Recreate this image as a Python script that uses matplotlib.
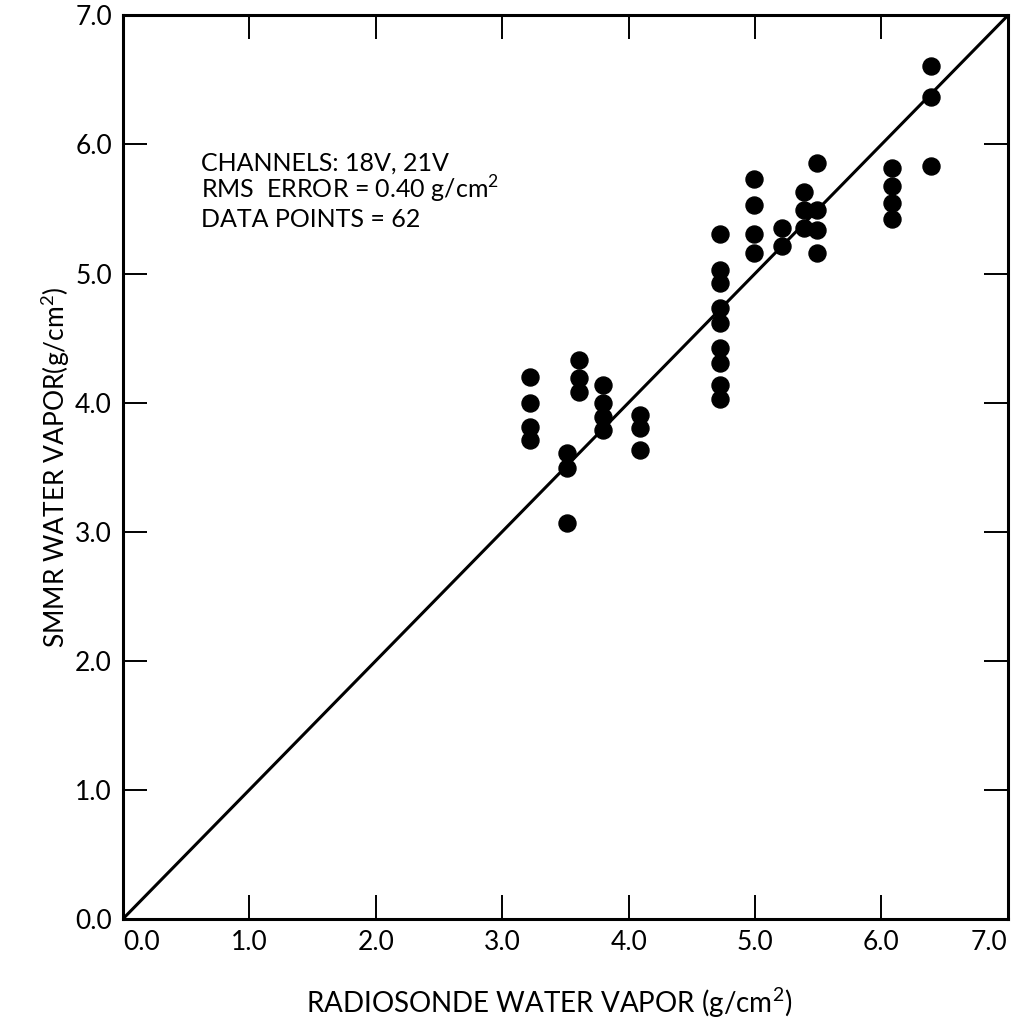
import numpy as np
import matplotlib
matplotlib.use("Agg")
from matplotlib import pyplot as plt

plt.rcParams['font.family'] = ['Lato', 'DejaVu Sans']
plt.rcParams['mathtext.fontset'] = 'custom'
plt.rcParams['mathtext.rm'] = 'Lato'

# radiosonde (x) vs SMMR (y) water vapor, g/cm^2
radiosonde = [3.22, 3.22, 3.22, 3.22,
              3.51, 3.51, 3.51,
              3.61, 3.61, 3.61,
              3.80, 3.80, 3.80, 3.80,
              4.09, 4.09, 4.09,
              4.72, 4.72, 4.72, 4.72, 4.72, 4.72, 4.72, 4.72, 4.72,
              4.99, 4.99, 4.99, 4.99,
              5.21, 5.21,
              5.39, 5.39, 5.39,
              5.49, 5.49, 5.49, 5.49,
              6.08, 6.08, 6.08, 6.08,
              6.39, 6.39, 6.39]
smmr = [4.20, 4.00, 3.81, 3.71,
        3.61, 3.49, 3.07,
        4.33, 4.19, 4.08,
        4.14, 4.00, 3.89, 3.79,
        3.90, 3.80, 3.63,
        5.31, 5.03, 4.93, 4.73, 4.62, 4.42, 4.31, 4.14, 4.03,
        5.73, 5.53, 5.31, 5.16,
        5.35, 5.21,
        5.63, 5.49, 5.35,
        5.86, 5.49, 5.34, 5.16,
        5.82, 5.68, 5.55, 5.42,
        6.61, 6.37, 5.83]
ticks = [0.0, 1.0, 2.0, 3.0, 4.0, 5.0, 6.0, 7.0]
tick_labels = ["0.0", "1.0", "2.0", "3.0", "4.0", "5.0", "6.0", "7.0"]
info_lines = ["CHANNELS: 18V, 21V",
              "RMS  ERROR = 0.40 g/cm$^2$",
              "DATA POINTS = 62"]

fig = plt.figure(figsize=(10.17, 10.30), dpi=100)
ax = fig.add_axes([0.121, 0.108, 0.870, 0.877])

ax.plot([0, 7], [0, 7], color='black', lw=2.2)
ax.scatter(radiosonde, smmr, s=150, color='black', zorder=3, clip_on=False)

ax.set_xlim(0, 7)
ax.set_ylim(0, 7)
ax.set_xticks(ticks)
ax.set_yticks(ticks)
ax.set_xticklabels(tick_labels, fontsize=19)
ax.set_yticklabels(tick_labels, fontsize=19)
ax.tick_params(direction='in', length=17, width=1.4, top=True, right=True,
               labeltop=False, labelright=False, pad=8)
# end labels of the x axis are pushed inward like in the original
ax.get_xticklabels()[0].set_horizontalalignment('left')
ax.get_xticklabels()[-1].set_horizontalalignment('right')
for s in ax.spines.values():
    s.set_linewidth(2.2)

ax.set_xlabel("RADIOSONDE WATER VAPOR (g/cm$^2$)", fontsize=20, labelpad=22)
ax.xaxis.label.set_x(0.481)
ax.set_ylabel("SMMR WATER VAPOR(g/cm$^2$)", fontsize=19, labelpad=2)

for i, line in enumerate(info_lines):
    ax.text(0.62, 5.80 - 0.22 * i, line, fontsize=18, va='baseline', ha='left')

fig.savefig("out.png", dpi=100)
